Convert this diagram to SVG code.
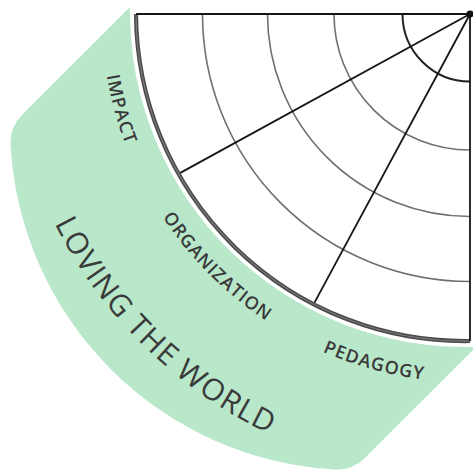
<svg xmlns="http://www.w3.org/2000/svg" width="473" height="470" viewBox="0 0 473 470">
  <style>
    .ring{fill:none;stroke:#6f6f6f;stroke-width:1.6}
    .ring-inner{fill:none;stroke:#222;stroke-width:2}
    .rule{fill:none;stroke:#151515;stroke-width:1.8}
    .lbl{font-family:"Open Sans","Liberation Sans",sans-serif;font-size:18px;font-weight:600;letter-spacing:1px;fill:#3a3a3a}
    .big{font-family:"Open Sans","Liberation Sans",sans-serif;font-size:30px;font-weight:500;letter-spacing:1.2px;fill:#3a3a3a}
  </style>
  <defs>
    <!-- baselines for the curved labels, centred on the corner (470,14) -->
    <path id="pImpact" d="M106.76,75.44 A368.4,368.4 0 0 0 150.95,198.2"/>
    <path id="pOrg" d="M162.56,216.98 A368.4,368.4 0 0 0 314.31,347.88"/>
    <path id="pPed" d="M322.61,351.64 A368.4,368.4 0 0 0 502.11,381"/>
    <path id="pWorld" d="M54.5,223.6 A465.6,465.6 0 0 0 349.5,463.8"/>
  </defs>

  <rect width="473" height="470" fill="#ffffff"/>

  <!-- outer green band -->
  <g id="band">
    <path d="M130,7 L22.2,114.8 A40,40 0 0 0 10.6,145.4 A344,344 0 0 0 334.6,469.4 A40,40 0 0 0 365.2,457.8 L476.2,346.8 A335,335 0 0 1 130,7 Z" fill="#b8e7ca"/>
  </g>

  <!-- quarter-circle grid -->
  <g id="grid">
    <path class="ring-inner" d="M402.5,14 A67.5,67.5 0 0 0 470,81.5"/>
    <path class="ring" d="M334,14 A136,136 0 0 0 470,150"/>
    <path class="ring" d="M267.5,14 A202.5,202.5 0 0 0 470,216.5"/>
    <path class="ring" d="M202.5,14 A267.5,267.5 0 0 0 470,281.5"/>
    <path d="M136,14 A329,329 0 0 0 470,341" fill="none" stroke="#4a4a4a" stroke-width="4.2"/>
    <path d="M136,14 A329,329 0 0 0 470,341" fill="none" stroke="#7a7a7a" stroke-width="1.2"/>
  </g>

  <!-- straight rules: edges and spokes from the corner -->
  <g id="connectors">
    <path class="rule" d="M136,14 H470"/>
    <path class="rule" d="M470,14 V341"/>
    <path class="rule" d="M470,14 L180.3,172.9"/>
    <path class="rule" d="M470,14 L314.6,302.4"/>
    <circle cx="470" cy="14" r="3.6" fill="#111"/>
  </g>

  <g id="labels">
    <text class="lbl"><textPath href="#pImpact">IMPACT</textPath></text>
    <text class="lbl"><textPath href="#pOrg">ORGANIZATION</textPath></text>
    <text class="lbl"><textPath href="#pPed">PEDAGOGY</textPath></text>
    <text class="big"><textPath href="#pWorld">LOVING THE WORLD</textPath></text>
  </g>
</svg>
